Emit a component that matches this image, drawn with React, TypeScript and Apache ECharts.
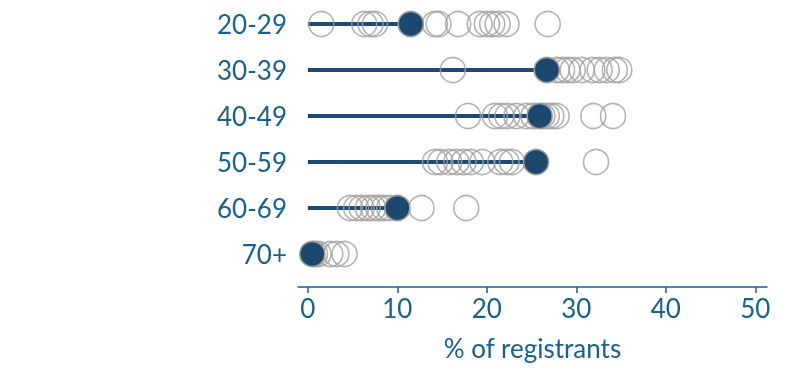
import React, { useEffect, useRef } from "react";
import * as echarts from "echarts";

const categories = ["20-29", "30-39", "40-49", "50-59", "60-69", "70+"];
const highlighted = [11.5, 26.7, 25.9, 25.5, 10.0, 0.5];
const others20 = [1.5, 6.3, 7.0, 7.5, 14.2, 14.6, 16.8, 19.2, 20.0, 20.6, 21.2, 22.2, 26.8];
const others30 = [16.2, 27.8, 28.4, 29.0, 29.6, 30.6, 31.8, 32.6, 33.4, 34.3, 34.8];
const others40 = [17.9, 20.9, 21.6, 22.3, 23.3, 24.4, 25.2, 26.2, 26.7, 27.2, 27.8, 31.9, 34.1];
const others50 = [14.2, 14.8, 15.8, 16.6, 17.4, 18.2, 19.5, 21.5, 22.2, 22.8, 32.2];
const others60 = [4.7, 5.4, 6.0, 6.7, 7.3, 7.9, 8.5, 9.1, 12.7, 17.7];
const others70 = [0.8, 1.2, 2.5, 3.2, 4.1];
const othersByGroup = [others20, others30, others40, others50, others60, others70];
const tickValues = [0, 10, 20, 30, 40, 50];

const BLUE_TEXT = "#19608f";
const DARK = "#1c4870";
const FONT = 26;

export default function App() {
  const ref = useRef<HTMLDivElement>(null);
  useEffect(() => {
    if (!ref.current) return;
    const chart = echarts.init(ref.current, null, { renderer: "svg" });
    const grayData: [number, string][] = [];
    othersByGroup.forEach((arr, i) => arr.forEach((v) => grayData.push([v, categories[i]])));
    chart.setOption({
      animation: false,
      grid: { left: 298, right: 33, top: 1, height: 276 },
      xAxis: {
        type: "value",
        min: -1.1,
        max: 51.3,
        offset: 10,
        splitLine: { show: false },
        axisLine: { show: true, lineStyle: { color: BLUE_TEXT, width: 1.5 } },
        axisTick: { show: true, length: 6, customValues: tickValues, lineStyle: { color: BLUE_TEXT, width: 1.5 } },
        axisLabel: { customValues: tickValues, color: BLUE_TEXT, fontFamily: "Lato", fontSize: FONT, margin: 8 },
        name: "% of registrants",
        nameLocation: "middle",
        nameGap: 48,
        nameTextStyle: { color: BLUE_TEXT, fontFamily: "Lato", fontSize: FONT },
      },
      yAxis: {
        type: "category",
        data: categories,
        inverse: true,
        axisLine: { show: false },
        axisTick: { show: false },
        splitLine: { show: false },
        axisLabel: { color: BLUE_TEXT, fontFamily: "Lato", fontSize: FONT, margin: 11 },
      },
      series: [
        {
          type: "bar",
          data: highlighted.map((v, i) => [v, categories[i]]),
          barWidth: 4,
          itemStyle: { color: "#1f4a75" },
          z: 1,
        },
        {
          type: "scatter",
          data: grayData,
          symbol: "circle",
          symbolSize: 25,
          itemStyle: { color: "rgba(255,255,255,0)", borderColor: "#a0a0a0", borderWidth: 1.6 },
          z: 2,
        },
        {
          type: "scatter",
          data: highlighted.map((v, i) => [v, categories[i]]),
          symbol: "circle",
          symbolSize: 25,
          itemStyle: { color: DARK, borderColor: "#999999", borderWidth: 1.6, opacity: 1 },
          z: 3,
        },
      ],
    });
    return () => chart.dispose();
  }, []);
  return <div ref={ref} style={{ position: "fixed", left: 0, top: 0, width: 800, height: 378 }} />;
}
